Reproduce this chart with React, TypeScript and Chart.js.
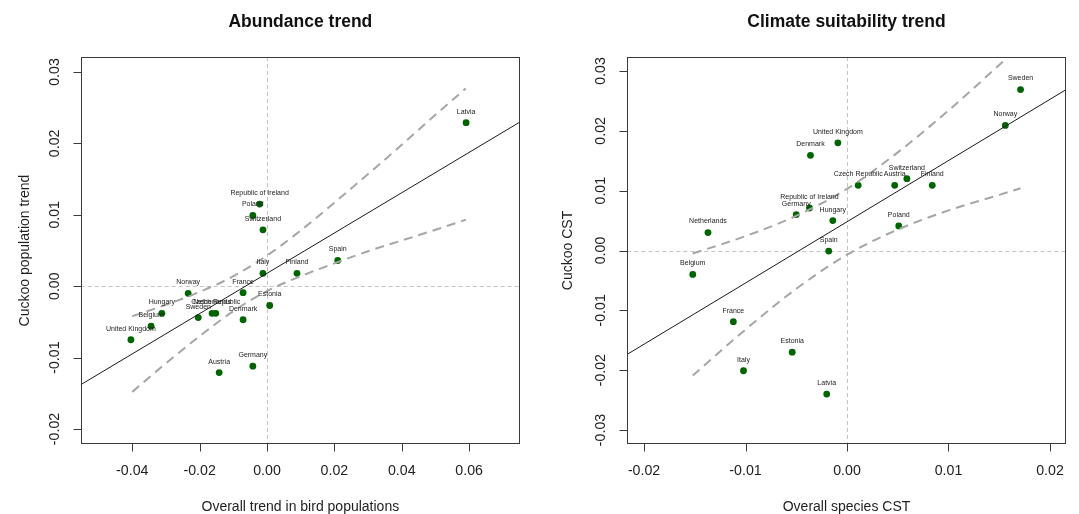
import { useEffect, useRef } from "react";
import { Chart, registerables } from "chart.js";

Chart.register(...registerables);

const FONT = '"Liberation Sans", Arial, Helvetica, sans-serif';

// ---------- Panel A: Abundance trend ----------
const countriesA = [
  "Latvia", "Republic of Ireland", "Poland", "Switzerland", "Spain", "Italy", "Finland",
  "France", "Estonia", "Norway", "Hungary", "Belgium", "United Kingdom", "Sweden",
  "Netherlands", "Czech Republic", "Denmark", "Austria", "Germany",
];
const birdTrend = [
  0.0591, -0.0022, -0.0042, -0.0012, 0.021, -0.0012, 0.0089,
  -0.0071, 0.0008, -0.0234, -0.0312, -0.0344, -0.0404, -0.0204,
  -0.0163, -0.0152, -0.0071, -0.0142, -0.0042,
];
const cuckooTrend = [
  0.0229, 0.0115, 0.0099, 0.0079, 0.0036, 0.0018, 0.0018,
  -0.0009, -0.0027, -0.001, -0.0038, -0.0056, -0.0075, -0.0044,
  -0.0038, -0.0038, -0.0047, -0.0121, -0.0112,
];
const fitAx = [-0.0553, 0.0751];
const fitAy = [-0.0138, 0.023];
const bandAx = [-0.04, -0.03, -0.02, -0.01, 0, 0.01, 0.02, 0.03, 0.04, 0.05, 0.059];
const bandAupper = [-0.0042, -0.0026, -0.0008, 0.0014, 0.0043, 0.0078, 0.0117, 0.0157, 0.0198, 0.024, 0.0277];
const bandAlower = [-0.0148, -0.0108, -0.007, -0.0035, -0.0007, 0.0014, 0.0032, 0.0049, 0.0064, 0.0079, 0.0093];
const xTicksA = [-0.04, -0.02, 0, 0.02, 0.04, 0.06];
const yTicksA = [-0.02, -0.01, 0, 0.01, 0.02, 0.03];

// ---------- Panel B: Climate suitability trend ----------
const countriesB = [
  "Sweden", "Norway", "United Kingdom", "Denmark", "Czech Republic", "Austria", "Switzerland",
  "Finland", "Republic of Ireland", "Germany", "Hungary", "Poland", "Netherlands", "Spain",
  "Belgium", "France", "Estonia", "Italy", "Latvia",
];
const speciesCST = [
  0.0171, 0.0156, -0.0009, -0.0036, 0.0011, 0.0047, 0.0059,
  0.0084, -0.0037, -0.005, -0.0014, 0.0051, -0.0137, -0.0018,
  -0.0152, -0.0112, -0.0054, -0.0102, -0.002,
];
const cuckooCST = [
  0.0269, 0.0209, 0.018, 0.0159, 0.0109, 0.0109, 0.012,
  0.0109, 0.0071, 0.006, 0.005, 0.0041, 0.003, -0.0001,
  -0.004, -0.0119, -0.017, -0.0201, -0.024,
];
const fitBx = [-0.0216, 0.0216];
const fitBy = [-0.0173, 0.0269];
const bandBx = [-0.0152, -0.01, -0.005, 0, 0.005, 0.01, 0.015, 0.0171];
const bandBupper = [-0.0005, 0.0024, 0.0058, 0.0103, 0.0164, 0.0234, 0.031, 0.0342];
const bandBlower = [-0.0209, -0.0132, -0.0064, -0.0007, 0.0035, 0.0067, 0.0093, 0.0104];
const xTicksB = [-0.02, -0.01, 0, 0.01, 0.02];
const yTicksB = [-0.03, -0.02, -0.01, 0, 0.01, 0.02, 0.03];

type PanelCfg = {
  title: string;
  xTitle: string;
  yTitle: string;
  labels: string[];
  xs: number[];
  ys: number[];
  fitX: number[];
  fitY: number[];
  bandX: number[];
  bandUp: number[];
  bandLo: number[];
  xTicks: number[];
  yTicks: number[];
  xMin: number;
  xMax: number;
  yMin: number;
  yMax: number;
  padLeft: number;
  padRight: number;
  yTickLabelOff: number;
  yTitleOff: number;
};

const panelA: PanelCfg = {
  title: "Abundance trend",
  xTitle: "Overall trend in bird populations",
  yTitle: "Cuckoo population trend",
  labels: countriesA,
  xs: birdTrend,
  ys: cuckooTrend,
  fitX: fitAx,
  fitY: fitAy,
  bandX: bandAx,
  bandUp: bandAupper,
  bandLo: bandAlower,
  xTicks: xTicksA,
  yTicks: yTicksA,
  xMin: -0.0553,
  xMax: 0.0751,
  yMin: -0.0221,
  yMax: 0.0321,
  padLeft: 80.7,
  padRight: 20,
  yTickLabelOff: 26,
  yTitleOff: 56,
};

const panelB: PanelCfg = {
  title: "Climate suitability trend",
  xTitle: "Overall species CST",
  yTitle: "Cuckoo CST",
  labels: countriesB,
  xs: speciesCST,
  ys: cuckooCST,
  fitX: fitBx,
  fitY: fitBy,
  bandX: bandBx,
  bandUp: bandBupper,
  bandLo: bandBlower,
  xTicks: xTicksB,
  yTicks: yTicksB,
  xMin: -0.02165,
  xMax: 0.02155,
  yMin: -0.03234,
  yMax: 0.03234,
  padLeft: 87.3,
  padRight: 13.3,
  yTickLabelOff: 26,
  yTitleOff: 59,
};

function makePlugin(cfg: PanelCfg) {
  return {
    id: "rStyle",
    beforeDatasetsDraw(chart: any) {
      const { ctx, chartArea: a, scales } = chart;
      const x = scales.x;
      const y = scales.y;
      ctx.save();
      ctx.beginPath();
      ctx.rect(a.left, a.top, a.right - a.left, a.bottom - a.top);
      ctx.clip();
      ctx.strokeStyle = "#c4c4c4";
      ctx.lineWidth = 1;
      ctx.setLineDash([4, 3]);
      const x0 = Math.round(x.getPixelForValue(0)) + 0.5;
      const y0 = Math.round(y.getPixelForValue(0)) + 0.5;
      ctx.beginPath();
      ctx.moveTo(x0, a.top);
      ctx.lineTo(x0, a.bottom);
      ctx.moveTo(a.left, y0);
      ctx.lineTo(a.right, y0);
      ctx.stroke();
      ctx.restore();
    },
    afterDatasetsDraw(chart: any) {
      const { ctx, scales } = chart;
      ctx.save();
      ctx.fillStyle = "#222";
      ctx.font = `7px ${FONT}`;
      ctx.textAlign = "center";
      ctx.textBaseline = "middle";
      cfg.labels.forEach((lab, i) => {
        const px = scales.x.getPixelForValue(cfg.xs[i]);
        const py = scales.y.getPixelForValue(cfg.ys[i]);
        ctx.fillText(lab, px, py - 11);
      });
      ctx.restore();
    },
    afterDraw(chart: any) {
      const { ctx, chartArea: a, scales } = chart;
      const x = scales.x;
      const y = scales.y;
      ctx.save();
      // box
      ctx.strokeStyle = "#3a3a3a";
      ctx.lineWidth = 1;
      const L = Math.round(a.left) + 0.5;
      const R = Math.round(a.right) - 0.5;
      const T = Math.round(a.top) + 0.5;
      const B = Math.round(a.bottom) - 0.5;
      ctx.strokeRect(L, T, R - L, B - T);
      // x ticks
      ctx.fillStyle = "#1e1e1e";
      ctx.font = `14.2px ${FONT}`;
      ctx.textAlign = "center";
      ctx.textBaseline = "middle";
      ctx.beginPath();
      cfg.xTicks.forEach((v) => {
        const px = Math.round(x.getPixelForValue(v)) + 0.5;
        ctx.moveTo(px, B);
        ctx.lineTo(px, B + 8);
      });
      ctx.stroke();
      cfg.xTicks.forEach((v) => {
        const px = x.getPixelForValue(v);
        ctx.fillText(v.toFixed(2), px, a.bottom + 27);
      });
      // y ticks
      ctx.beginPath();
      cfg.yTicks.forEach((v) => {
        const py = Math.round(y.getPixelForValue(v)) + 0.5;
        ctx.moveTo(L - 8, py);
        ctx.lineTo(L, py);
      });
      ctx.stroke();
      cfg.yTicks.forEach((v) => {
        const py = y.getPixelForValue(v);
        ctx.save();
        ctx.translate(a.left - cfg.yTickLabelOff, py);
        ctx.rotate(-Math.PI / 2);
        ctx.fillText(v.toFixed(2), 0, 0);
        ctx.restore();
      });
      // axis titles
      ctx.font = `14px ${FONT}`;
      ctx.fillText(cfg.xTitle, (a.left + a.right) / 2, a.bottom + 63);
      ctx.save();
      ctx.translate(a.left - cfg.yTitleOff, (a.top + a.bottom) / 2);
      ctx.rotate(-Math.PI / 2);
      ctx.fillText(cfg.yTitle, 0, 0);
      ctx.restore();
      // main title
      ctx.fillStyle = "#111";
      ctx.font = `bold 17.5px ${FONT}`;
      ctx.fillText(cfg.title, (a.left + a.right) / 2, 22);
      ctx.restore();
    },
  };
}

function Panel({ cfg, left, width }: { cfg: PanelCfg; left: number; width: number }) {
  const ref = useRef<HTMLCanvasElement>(null);
  useEffect(() => {
    const canvas = ref.current;
    if (!canvas) return;
    const bandStyle = {
      showLine: true,
      borderColor: "#a6a6a6",
      borderWidth: 2,
      borderDash: [9, 6],
      pointRadius: 0,
      fill: false,
      cubicInterpolationMode: "monotone" as const,
      clip: 0,
    };
    const chart = new Chart(canvas, {
      type: "scatter",
      data: {
        datasets: [
          { ...bandStyle, data: cfg.bandX.map((v, i) => ({ x: v, y: cfg.bandUp[i] })) },
          { ...bandStyle, data: cfg.bandX.map((v, i) => ({ x: v, y: cfg.bandLo[i] })) },
          {
            showLine: true,
            borderColor: "#1a1a1a",
            borderWidth: 1,
            pointRadius: 0,
            clip: 0,
            data: cfg.fitX.map((v, i) => ({ x: v, y: cfg.fitY[i] })),
          },
          {
            showLine: false,
            pointRadius: 3.4,
            pointBackgroundColor: "#006400",
            pointBorderColor: "#006400",
            pointBorderWidth: 0,
            data: cfg.xs.map((v, i) => ({ x: v, y: cfg.ys[i] })),
          },
        ] as any,
      },
      options: {
        animation: false,
        responsive: false,
        events: [],
        layout: { padding: { left: cfg.padLeft, right: cfg.padRight, top: 57, bottom: 70 } },
        plugins: {
          legend: { display: false },
          tooltip: { enabled: false },
          title: { display: false },
        },
        scales: {
          x: { type: "linear", min: cfg.xMin, max: cfg.xMax, display: false },
          y: { type: "linear", min: cfg.yMin, max: cfg.yMax, display: false },
        },
      },
      plugins: [makePlugin(cfg)],
    });
    return () => chart.destroy();
  }, [cfg]);
  return (
    <canvas
      ref={ref}
      width={width}
      height={514}
      style={{ position: "absolute", left, top: 0, width, height: 514, display: "block" }}
    />
  );
}

export default function App() {
  return (
    <div
      style={{
        position: "fixed",
        left: 0,
        top: 0,
        width: 1079,
        height: 514,
        background: "#ffffff",
        overflow: "hidden",
      }}
    >
      <Panel cfg={panelA} left={0} width={540} />
      <Panel cfg={panelB} left={540} width={539} />
    </div>
  );
}
